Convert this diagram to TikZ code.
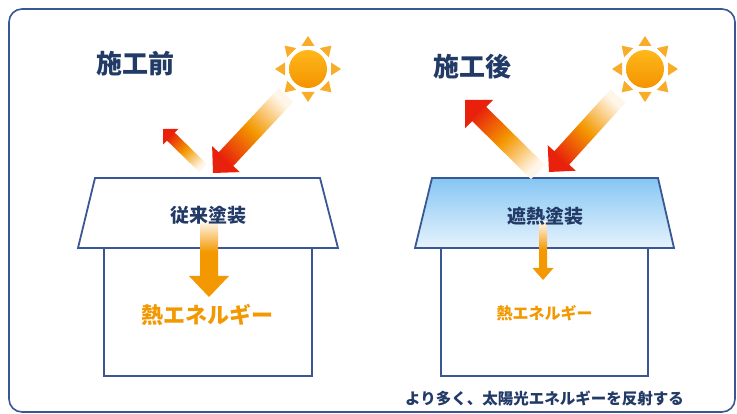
\documentclass[tikz,border=0pt]{standalone}
\usepackage{fontspec}
\newfontfamily\jp{Noto Sans CJK JP}
\usetikzlibrary{calc}

\definecolor{navy}{HTML}{223A66}
\definecolor{lineblue}{HTML}{3A5795}
\definecolor{heat}{HTML}{F39800}
\definecolor{hot}{HTML}{E8200C}
\definecolor{pale}{HTML}{FFF6EA}
\definecolor{sunray}{HTML}{F8AC2A}
\definecolor{suntop}{HTML}{FFB81C}
\definecolor{sunbot}{HTML}{F49300}
\definecolor{roofhi}{HTML}{86C6F3}
\definecolor{rooflo}{HTML}{E6F3FD}

\tikzset{
  frame/.style={draw=lineblue, line width=1.6pt, rounded corners=13pt},
  outline/.style={draw=lineblue, line width=1.8pt, line join=miter},
  title/.style={font=\jp\bfseries\fontsize{26}{30}\selectfont, text=navy, inner sep=0pt},
  coat/.style={font=\jp\bfseries\fontsize{19}{22}\selectfont, text=navy, inner sep=0pt},
  heatbig/.style={font=\jp\bfseries\fontsize{22}{26}\selectfont, text=heat, inner sep=0pt},
  heatsmall/.style={font=\jp\bfseries\fontsize{16}{19}\selectfont, text=heat, inner sep=0pt},
  note/.style={font=\jp\bfseries\fontsize{15.5}{18}\selectfont, text=navy, inner sep=0pt},
  sunlight/.style={top color=pale, bottom color=hot, middle color=heat, shading angle=-45},
  bounce/.style={top color=pale, bottom color=hot, middle color=heat, shading angle=-135},
}

% block arrow: #1 style, #2 start, #3 tip, #4 half shaft width, #5 half head width, #6 head length
\newcommand\blockarrow[6]{%
  \coordinate (#2-base) at ($(#3)!#6!(#2)$);
  \path[#1] ($(#2)!#4!90:(#3)$) -- ($(#2-base)!#4!90:(#3)$) -- ($(#2-base)!#5!90:(#3)$)
    -- (#3) -- ($(#2-base)!#5!-90:(#3)$) -- ($(#2-base)!#4!-90:(#3)$)
    -- ($(#2)!#4!-90:(#3)$) -- cycle;
}

% sun: #1 centre
\newcommand\drawsun[1]{%
  \foreach \a in {0,45,...,315}{
    \fill[sunray] ($(#1)+(\a:33)$) -- ($(#1)+(\a:23)+(\a+90:6.5)$)
      -- ($(#1)+(\a:23)+(\a-90:6.5)$) -- cycle;
  }
  \shade[top color=suntop, bottom color=sunbot] (#1) circle (19);
}

\begin{document}
\begin{tikzpicture}[x=1pt, y=-1pt]
\useasboundingbox (0,0) rectangle (737,414);

% outer frame
\draw[frame] (9,9) rectangle (735,412);

% ---------- before ----------
\node[title] (titleL) at (135,64) {施工前};
\coordinate (sunL) at (308,69);
\drawsun{sunL}

\draw[outline, fill=white] (104,248) rectangle (312,376);
\draw[outline, fill=white] (95,178) -- (320,178) -- (338,248) -- (78,248) -- cycle;

\coordinate (inL-s) at (286,95);
\coordinate (inL-t) at (213,173);
\blockarrow{sunlight}{inL-s}{inL-t}{10pt}{19pt}{19pt}
\coordinate (outL-s) at (203,168);
\coordinate (outL-t) at (163,129);
\blockarrow{bounce}{outL-s}{outL-t}{5.5pt}{11pt}{11pt}

% heat passing through the roof
\shade[top color=pale, bottom color=heat] (200,222) rectangle (218,252);
\fill[heat] (200,251.5) -- (218,251.5) -- (218,276) -- (229,276) -- (209,297) -- (189,276) -- (200,276) -- cycle;

\node[coat] (coatL) at (208.5,215) {従来塗装};
\node[heatbig] (heatL) at (207.5,315) {熱エネルギー};

% ---------- after ----------
\node[title] (titleR) at (472,67) {施工後};
\coordinate (sunR) at (645,69);
\drawsun{sunR}

\draw[outline, fill=white] (441,248) rectangle (648,376);
\draw[outline, top color=roofhi, bottom color=rooflo] (432,178) -- (658,178) -- (674,248) -- (415,248) -- cycle;

\coordinate (inR-s) at (618,96);
\coordinate (inR-t) at (549,172);
\blockarrow{sunlight}{inR-s}{inR-t}{10pt}{19pt}{19pt}
\coordinate (outR-s) at (538,172);
\coordinate (outR-t) at (465,100);
\blockarrow{bounce}{outR-s}{outR-t}{10pt}{20pt}{20pt}

\shade[top color=pale, bottom color=heat] (539,222) rectangle (547,250);
\fill[heat] (539,249.5) -- (547,249.5) -- (547,268) -- (553.5,268) -- (543,280) -- (532.5,268) -- (539,268) -- cycle;

\node[coat] (coatR) at (545,216) {遮熱塗装};
\node[heatsmall] (heatR) at (544.5,313) {熱エネルギー};
\node[note] (noteR) at (544.5,398) {より多く、太陽光エネルギーを反射する};
\end{tikzpicture}
\end{document}
